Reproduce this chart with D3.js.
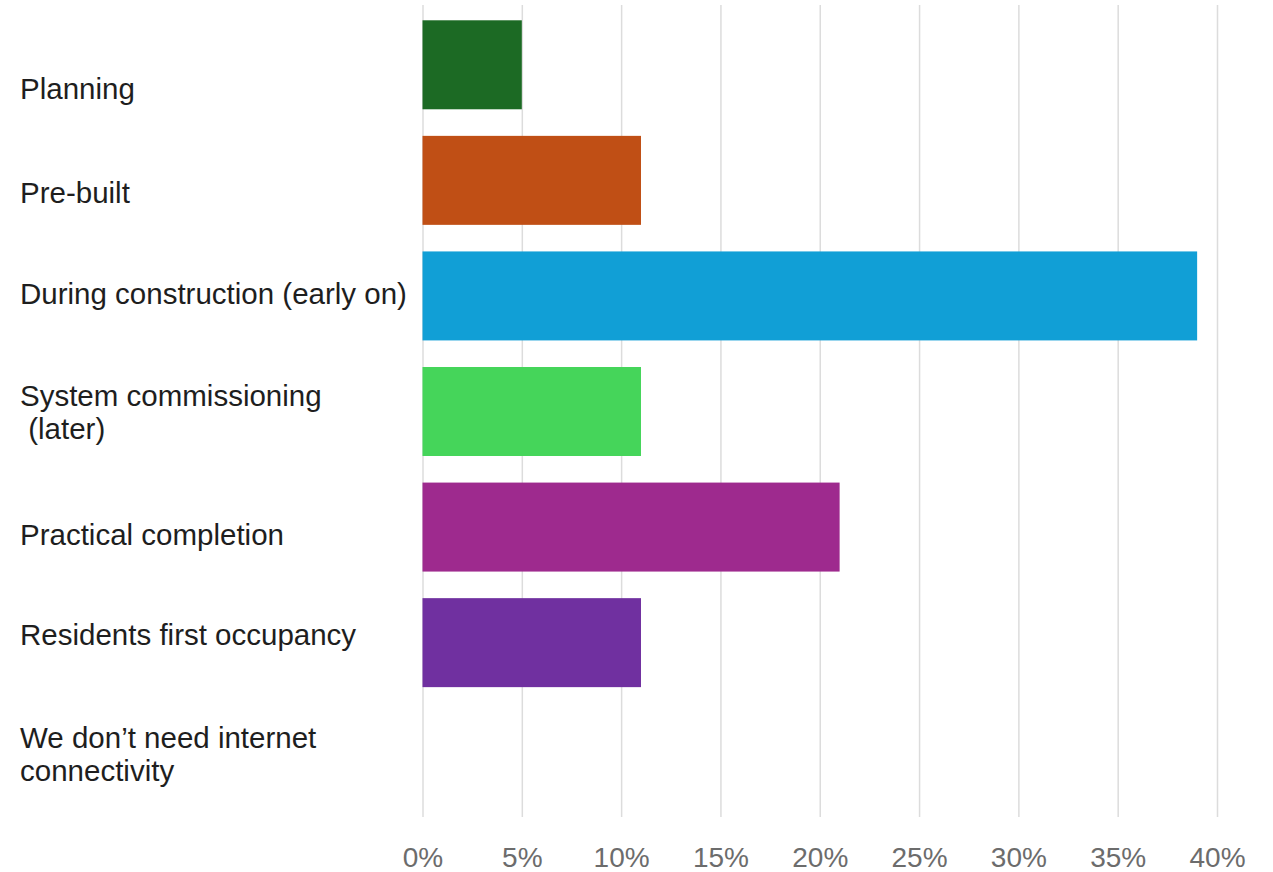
<!DOCTYPE html>
<html>
<head>
<meta charset="utf-8">
<script src="https://cdn.jsdelivr.net/npm/d3@7"></script>
<style>
    body { margin: 0; background: #fff; }
    svg { display: block; }
</style>
</head>
<body>
<svg id="chart" width="1273" height="872"></svg>
<script>
// categories, one entry per line of the label
const categories = [
    ["Planning"],
    ["Pre-built"],
    ["During construction (early on)"],
    ["System commissioning", " (later)"],
    ["Practical completion"],
    ["Residents first occupancy"],
    ["We don\u2019t need internet", "connectivity"]
];
const percentages = [5, 11, 39, 11, 21, 11, 0];
const barColors = ["#1c6a24", "#c04f15", "#119fd6", "#45d55a", "#9e2a8e", "#7030a0", "#999999"];
const tickValues = [0, 5, 10, 15, 20, 25, 30, 35, 40];

// the labels in the original do not sit exactly on the band centres
const labelNudge = [24, 12, -2, 0, 7, -8, -4];

const svg = d3.select("#chart");

const plot = { left: 422.5, right: 1217, top: 7, bottom: 816 };

const x = d3.scaleLinear()
    .domain([0, 40])
    .range([plot.left, plot.right]);

const y = d3.scaleBand()
    .domain(d3.range(categories.length))
    .range([plot.top, plot.bottom])
    .paddingInner(0.23)
    .paddingOuter(0.115);

// gridlines + tick labels
const axis = svg.append("g")
    .attr("transform", "translate(0," + 817 + ")")
    .call(d3.axisBottom(x)
        .tickValues(tickValues)
        .tickFormat(d => d + "%")
        .tickSize(-812)
        .tickPadding(0));

axis.select(".domain").remove();
axis.selectAll(".tick line")
    .attr("stroke", "#dcdcdc")
    .attr("stroke-width", 1.5);
axis.selectAll(".tick text")
    .attr("y", 50)
    .attr("dy", 0)
    .attr("fill", "#6c6c6c")
    .style("font-family", "'Liberation Sans', Arial, sans-serif")
    .style("font-size", "28px");

// bars
svg.selectAll(".bar")
    .data(percentages)
    .enter()
    .append("rect")
    .attr("class", "bar")
    .attr("x", x(0))
    .attr("y", (d, i) => y(i))
    .attr("width", d => x(d) - x(0))
    .attr("height", y.bandwidth())
    .attr("fill", (d, i) => barColors[i]);

// category labels
const lineHeight = 33;
const labels = svg.selectAll(".label")
    .data(categories)
    .enter()
    .append("text")
    .attr("class", "label")
    .attr("x", 20)
    .attr("y", (d, i) => y(i) + y.bandwidth() / 2 + labelNudge[i])
    .attr("fill", "#1e1e1e")
    .style("font-family", "'Liberation Sans', Arial, sans-serif")
    .style("font-size", "29.5px")
    .style("white-space", "pre");

labels.each(function (lines) {
    let t = d3.select(this);
    let cy = +t.attr("y");
    let first = cy - (lines.length - 1) * lineHeight / 2 + 10.5;
    lines.forEach(function (line, k) {
        t.append("tspan")
            .attr("x", 20)
            .attr("y", first + k * lineHeight)
            .text(line);
    });
});
</script>
</body>
</html>
